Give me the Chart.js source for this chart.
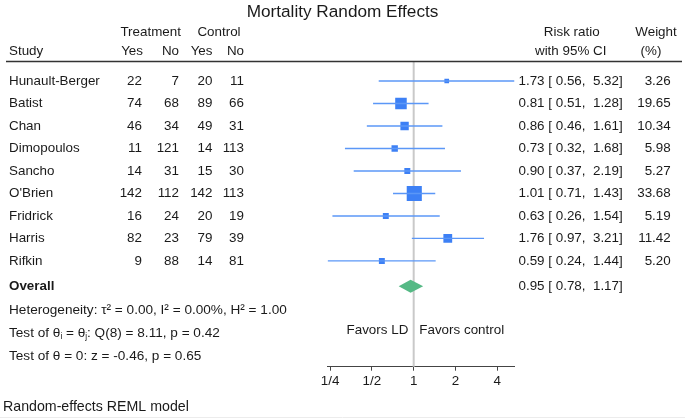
<!DOCTYPE html>
<html>
<head>
<meta charset="utf-8">
<script src="https://cdn.jsdelivr.net/npm/chart.js@4/dist/chart.umd.min.js"></script>
<style>
  html, body { margin: 0; padding: 0; background: #fff; }
  #wrap { width: 685px; height: 418px; position: relative; }
</style>
</head>
<body>
<div id="wrap"><canvas id="forest"></canvas></div>
<script>
// data
const studies = ['Hunault-Berger', 'Batist', 'Chan', 'Dimopoulos', 'Sancho', "O'Brien", 'Fridrick', 'Harris', 'Rifkin'];
const trtYes = [22, 74, 46, 11, 14, 142, 16, 82, 9];
const trtNo = [7, 68, 34, 121, 31, 112, 24, 23, 88];
const ctlYes = [20, 89, 49, 14, 15, 142, 20, 79, 14];
const ctlNo = [11, 66, 31, 113, 30, 113, 19, 39, 81];
const riskRatio = [1.73, 0.81, 0.86, 0.73, 0.90, 1.01, 0.63, 1.76, 0.59];
const ciLow = [0.56, 0.51, 0.46, 0.32, 0.37, 0.71, 0.26, 0.97, 0.24];
const ciHigh = [5.32, 1.28, 1.61, 1.68, 2.19, 1.43, 1.54, 3.21, 1.44];
const weights = [3.26, 19.65, 10.34, 5.98, 5.27, 33.68, 5.19, 11.42, 5.20];
const overall = [0.95, 0.78, 1.17]; // estimate, low, high
const tickValues = [0.25, 0.5, 1, 2, 4];
const tickLabels = ['1/4', '1/2', '1', '2', '4'];

const FONT = '"Liberation Sans", Arial, Helvetica, sans-serif';
const TXT = '#1a1a1a';
const BLUE = '#3d80f5';
const BLUE_LINE = '#5b97f7';
const GREEN = '#55b985';

function fmt(v) { return v.toFixed(2); }
function ci(v, l, h) {
    // Stata style: 1.73 [ 0.56,  5.32]
    const pad = s => (s.length < 5 ? ' ' + s : s);
    return fmt(v) + ' [' + pad(fmt(l)) + ', ' + pad(fmt(h)) + ']';
}

// draw a run of text pieces, {sub:'i'} gets a small lowered glyph
function drawRuns(ctx, runs, x, y, size) {
    let cx = x;
    runs.forEach(r => {
        if (typeof r === 'string') {
            ctx.font = size + 'px ' + FONT;
            ctx.fillText(r, cx, y);
            cx += ctx.measureText(r).width;
        } else {
            ctx.font = (size * 0.6) + 'px ' + FONT;
            ctx.fillText(r.sub, cx, y + size * 0.3);
            cx += ctx.measureText(r.sub).width;
        }
    });
}

const forestPlugin = {
    id: 'forestText',
    beforeDatasetsDraw(chart) {
        const ctx = chart.ctx;
        const xs = chart.scales.x;
        const area = chart.chartArea;
        const x1 = xs.getPixelForValue(1);
        ctx.save();
        ctx.strokeStyle = '#c9c9c9';
        ctx.lineWidth = 2;
        ctx.beginPath();
        ctx.moveTo(x1, area.top);
        ctx.lineTo(x1, area.bottom);
        ctx.stroke();
        ctx.restore();
    },
    afterDatasetsDraw(chart) {
        const ctx = chart.ctx;
        const xs = chart.scales.x;
        const ys = chart.scales.y;
        // overall diamond
        const yo = ys.getPixelForValue(9.12);
        ctx.save();
        ctx.fillStyle = GREEN;
        ctx.beginPath();
        ctx.moveTo(xs.getPixelForValue(overall[1]), yo);
        ctx.lineTo(xs.getPixelForValue(overall[0]), yo - 6.5);
        ctx.lineTo(xs.getPixelForValue(overall[2]), yo);
        ctx.lineTo(xs.getPixelForValue(overall[0]), yo + 6.5);
        ctx.closePath();
        ctx.fill();
        ctx.restore();
    },
    afterDraw(chart) {
        const ctx = chart.ctx;
        const ys = chart.scales.y;
        const fs = 13.4;
        ctx.save();
        ctx.fillStyle = TXT;
        ctx.textBaseline = 'middle';

        // title
        ctx.font = '17.2px ' + FONT;
        ctx.textAlign = 'center';
        ctx.fillText('Mortality Random Effects', 342.5, 12.5);

        // headers
        ctx.font = fs + 'px ' + FONT;
        ctx.fillText('Treatment', 150.7, 32.8);
        ctx.fillText('Control', 219, 32.8);
        ctx.fillText('Risk ratio', 571.7, 32.8);
        ctx.fillText('Weight', 656, 32.8);
        ctx.fillText('with 95% CI', 570.7, 51.8);
        ctx.fillText('(%)', 651, 51.8);
        ctx.textAlign = 'left';
        ctx.fillText('Study', 9, 51.8);
        ctx.textAlign = 'right';
        ctx.fillText('Yes', 143, 51.8);
        ctx.fillText('No', 179, 51.8);
        ctx.fillText('Yes', 212.5, 51.8);
        ctx.fillText('No', 244, 51.8);

        // header rule
        ctx.strokeStyle = '#333';
        ctx.lineWidth = 1.3;
        ctx.beginPath();
        ctx.moveTo(6, 61.5);
        ctx.lineTo(682, 61.5);
        ctx.stroke();

        // study rows
        studies.forEach((s, i) => {
            const y = ys.getPixelForValue(i);
            ctx.textAlign = 'left';
            ctx.fillText(s, 9, y);
            ctx.fillText(ci(riskRatio[i], ciLow[i], ciHigh[i]), 518.5, y);
            ctx.textAlign = 'right';
            ctx.fillText(String(trtYes[i]), 142, y);
            ctx.fillText(String(trtNo[i]), 179, y);
            ctx.fillText(String(ctlYes[i]), 212.5, y);
            ctx.fillText(String(ctlNo[i]), 244, y);
            ctx.fillText(fmt(weights[i]), 670.7, y);
        });

        // overall row
        const yo = ys.getPixelForValue(9.12);
        ctx.textAlign = 'left';
        ctx.font = 'bold ' + fs + 'px ' + FONT;
        ctx.fillText('Overall', 9, yo);
        ctx.font = fs + 'px ' + FONT;
        ctx.fillText(ci(overall[0], overall[1], overall[2]), 518.5, yo);

        // statistics
        const fst = 13.6;
        drawRuns(ctx, ['Heterogeneity: \u03c4\u00b2 = 0.00, I\u00b2 = 0.00%, H\u00b2 = 1.00'], 9, ys.getPixelForValue(10.18), fst);
        drawRuns(ctx, ['Test of \u03b8', {sub: 'i'}, ' = \u03b8', {sub: 'j'}, ': Q(8) = 8.11, p = 0.42'], 9, ys.getPixelForValue(11.2), fst);
        drawRuns(ctx, ['Test of \u03b8 = 0: z = -0.46, p = 0.65'], 9, ys.getPixelForValue(12.22), fst);

        // favors labels
        ctx.font = fs + 'px ' + FONT;
        ctx.textAlign = 'right';
        ctx.fillText('Favors LD', 408.3, 330);
        ctx.textAlign = 'left';
        ctx.fillText('Favors control', 419.3, 330);

        // note
        ctx.font = '14.2px ' + FONT;
        ctx.fillText('Random-effects REML model', 3, 407);

        ctx.strokeStyle = '#ececec';
        ctx.lineWidth = 1;
        ctx.beginPath();
        ctx.moveTo(0, 417.5);
        ctx.lineTo(685, 417.5);
        ctx.stroke();
        ctx.restore();
    }
};

const ciSets = studies.map((s, i) => ({
    type: 'line',
    label: s,
    data: [{ x: ciLow[i], y: i }, { x: ciHigh[i], y: i }],
    borderColor: BLUE_LINE,
    borderWidth: 1.3,
    pointRadius: 0,
    fill: false
}));

new Chart(document.getElementById('forest'), {
    type: 'scatter',
    data: {
        datasets: [
            ...ciSets,
            {
                type: 'scatter',
                label: 'Risk ratio',
                data: riskRatio.map((v, i) => ({ x: v, y: i })),
                pointStyle: 'rect',
                pointRadius: weights.map(w => 1.84 * Math.sqrt(w)),
                backgroundColor: BLUE,
                borderWidth: 0
            }
        ]
    },
    options: {
        responsive: true,
        maintainAspectRatio: false,
        animation: false,
        layout: { padding: { left: 327.6, right: 170.5, top: 61.5, bottom: 21.3 } },
        plugins: { legend: { display: false }, tooltip: { enabled: false } },
        scales: {
            x: {
                type: 'logarithmic',
                min: 0.24,
                max: 5.32,
                position: 'bottom',
                afterBuildTicks: s => { s.ticks = tickValues.map(v => ({ value: v })); },
                afterFit: s => { s.height = 30; },
                ticks: {
                    autoSkip: false,
                    maxRotation: 0,
                    padding: 3,
                    color: TXT,
                    font: { family: FONT, size: 13.4 },
                    callback: v => tickLabels[tickValues.indexOf(v)]
                },
                grid: { drawOnChartArea: false, tickLength: 4, color: '#444', lineWidth: 1 },
                border: { color: '#444', width: 1 }
            },
            y: {
                type: 'linear',
                min: -0.867,
                max: 12.7,
                reverse: true,
                display: false
            }
        }
    },
    plugins: [forestPlugin]
});
</script>
</body>
</html>
